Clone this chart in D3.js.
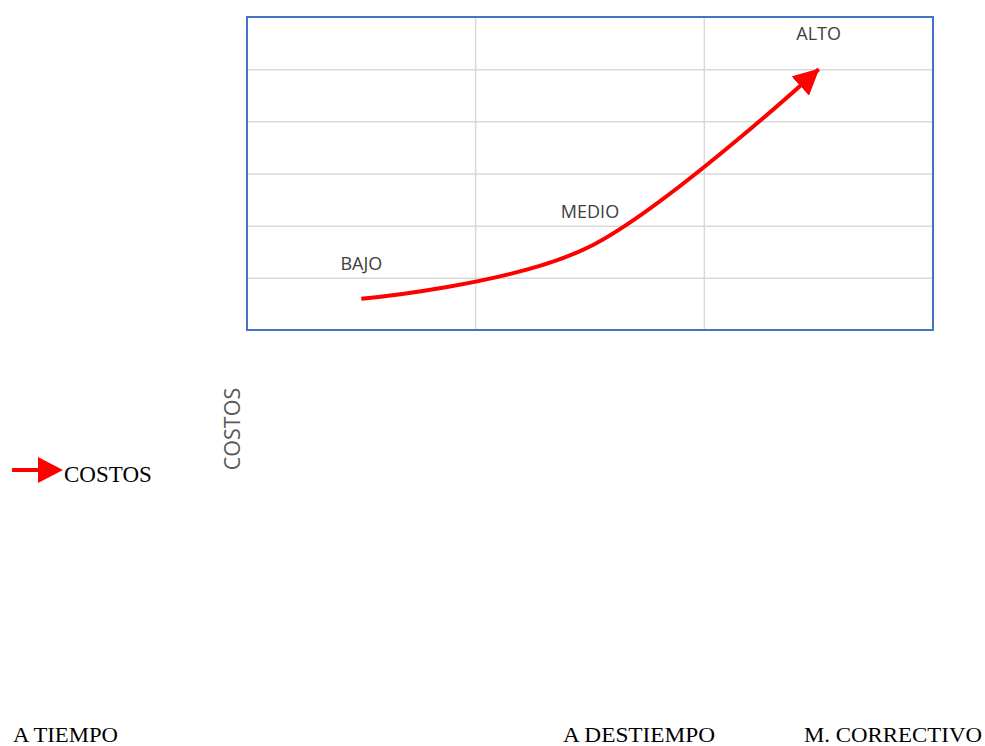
<!DOCTYPE html>
<html>
<head>
<meta charset="utf-8">
<script src="https://cdn.jsdelivr.net/npm/d3@7"></script>
<style>
  html, body { margin: 0; padding: 0; background: #ffffff; }
  svg { display: block; }
</style>
</head>
<body>
<svg id="chart" width="985" height="746"></svg>
<script>
// Maintenance timing categories, cost level labels and cost values
const categories = ["A TIEMPO", "A DESTIEMPO", "M. CORRECTIVO"];
const levels = ["BAJO", "MEDIO", "ALTO"];
const costs = [0.6, 1.6, 5.0];
const yTicks = [0, 1, 2, 3, 4, 5, 6];
const seriesName = "COSTOS";
const axisTitle = "COSTOS";

const svg = d3.select("#chart");
const plot = { left: 247, right: 933, top: 17, bottom: 330 };

const x = d3.scaleBand().domain(categories).range([plot.left, plot.right]).padding(0);
const y = d3.scaleLinear().domain([0, 6]).range([plot.bottom, plot.top]);
const cx = c => x(c) + x.bandwidth() / 2;

// Horizontal gridlines
const yAxis = d3.axisLeft(y)
  .tickValues(yTicks.filter(v => v > 0 && v < 6))
  .tickSize(-(plot.right - plot.left))
  .tickFormat("");
const gy = svg.append("g").attr("transform", `translate(${plot.left},0)`).call(yAxis);
gy.select(".domain").remove();
gy.selectAll(".tick line").attr("stroke", "#d9d9d9").attr("stroke-width", 1.5);

// Vertical gridlines at category boundaries
const xAxis = d3.axisBottom(x).tickSize(-(plot.bottom - plot.top)).tickFormat("");
const gx = svg.append("g").attr("transform", `translate(0,${plot.bottom})`).call(xAxis);
gx.select(".domain").remove();
gx.selectAll(".tick")
  .attr("transform", d => `translate(${x(d)},0)`)
  .filter(d => x(d) <= plot.left + 1)
  .remove();
gx.selectAll(".tick line").attr("stroke", "#d9d9d9").attr("stroke-width", 1.5);

// Plot frame
svg.append("rect")
  .attr("x", plot.left).attr("y", plot.top)
  .attr("width", plot.right - plot.left).attr("height", plot.bottom - plot.top)
  .attr("fill", "none").attr("stroke", "#4472c4").attr("stroke-width", 2);

// Arrowhead marker
const defs = svg.append("defs");
defs.append("marker")
  .attr("id", "arrow")
  .attr("markerUnits", "userSpaceOnUse")
  .attr("markerWidth", 26).attr("markerHeight", 26)
  .attr("viewBox", "0 0 24 24")
  .attr("refX", 23).attr("refY", 12)
  .attr("orient", "auto")
  .append("path")
  .attr("d", "M0,0 L24,12 L0,24 Z")
  .attr("fill", "#ff0000");

// Smoothed cost line
const data = categories.map((c, i) => ({ c, v: costs[i], label: levels[i] }));
const line = d3.line()
  .x(d => cx(d.c))
  .y(d => y(d.v))
  .curve(d3.curveCardinal.tension(0));

svg.append("path")
  .datum(data)
  .attr("d", line)
  .attr("fill", "none")
  .attr("stroke", "#ff0000")
  .attr("stroke-width", 4)
  .attr("marker-end", "url(#arrow)");

// Data labels above points
svg.append("g").selectAll("text")
  .data(data)
  .join("text")
  .attr("x", d => cx(d.c))
  .attr("y", d => y(d.v) - 29)
  .attr("text-anchor", "middle")
  .attr("font-family", "'Open Sans', sans-serif")
  .attr("font-size", 18)
  .attr("fill", "#404040")
  .text(d => d.label);

// Vertical axis title
svg.append("text")
  .attr("transform", "translate(240,429) rotate(-90)")
  .attr("text-anchor", "middle")
  .attr("font-family", "'Open Sans', sans-serif")
  .attr("font-size", 21.5)
  .attr("fill", "#595959")
  .text(axisTitle);

// Legend
const legend = svg.append("g");
legend.append("line")
  .attr("x1", 12).attr("x2", 40).attr("y1", 470).attr("y2", 470)
  .attr("stroke", "#ff0000").attr("stroke-width", 4);
legend.append("path")
  .attr("d", "M38,457 L63,470 L38,483 Z")
  .attr("fill", "#ff0000");
legend.append("text")
  .attr("x", 64).attr("y", 482)
  .attr("font-family", "'Liberation Serif', 'Times New Roman', serif")
  .attr("font-size", 23)
  .attr("fill", "#000000")
  .text(seriesName);

// Category labels along the bottom
const catPos = [{ x: 13, w: 105 }, { x: 563, w: 152 }, { x: 804, w: 178 }];
svg.append("g").selectAll("text")
  .data(categories)
  .join("text")
  .attr("x", (d, i) => catPos[i].x)
  .attr("y", 742)
  .attr("textLength", (d, i) => catPos[i].w)
  .attr("lengthAdjust", "spacingAndGlyphs")
  .attr("font-family", "'Liberation Serif', 'Times New Roman', serif")
  .attr("font-size", 22)
  .attr("fill", "#000000")
  .text(d => d);
</script>
</body>
</html>
